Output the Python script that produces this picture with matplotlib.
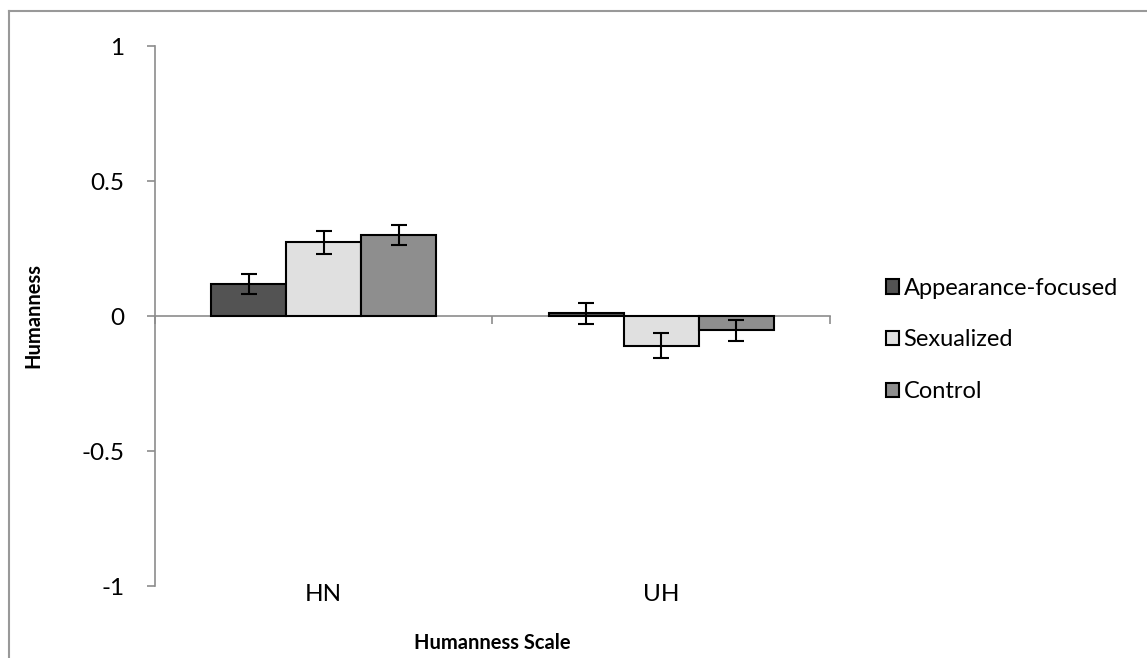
import numpy as np
import matplotlib.pyplot as plt
from matplotlib.lines import Line2D

plt.rcParams['font.family'] = ['Lato', 'DejaVu Sans']

# Mean humanness ratings per scale and condition
scales = ['HN', 'UH']
conditions = ['Appearance-focused', 'Sexualized', 'Control']
means_appearance = [0.117, 0.010]
means_sexualized = [0.273, -0.110]
means_control = [0.301, -0.053]
err_appearance = [0.037, 0.040]
err_sexualized = [0.043, 0.046]
err_control = [0.038, 0.039]

colors = ['#535353', '#e0e0e0', '#8e8e8e']
axis_gray = '#8c8c8c'

fig = plt.figure(figsize=(11.47, 6.58), dpi=100)
ax = fig.add_axes([0.1351, 0.1094, 0.5885, 0.8206])

x = np.arange(len(scales)) + 0.5
width = 0.222
series = [(means_appearance, err_appearance),
          (means_sexualized, err_sexualized),
          (means_control, err_control)]
handles = []
for i, (vals, errs) in enumerate(series):
    pos = x + (i - 1) * width
    b = ax.bar(pos, vals, width, color=colors[i], edgecolor='black',
               linewidth=1.5, label=conditions[i], zorder=2)
    ax.errorbar(pos, vals, yerr=errs, fmt='none', ecolor='black',
                elinewidth=1.5, capsize=6, capthick=1.5, zorder=3)
    handles.append(b)

ax.set_xlim(0, 2)
ax.set_ylim(-1, 1)
ax.set_yticks([-1, -0.5, 0, 0.5, 1])
ax.set_yticklabels(['-1', '-0.5', '0', '0.5', '1'])
ax.set_xticks([0, 1, 2])
ax.set_xticklabels([])

for s in ['top', 'right']:
    ax.spines[s].set_visible(False)
ax.spines['bottom'].set_position(('data', 0))
ax.spines['bottom'].set_zorder(1)
for s in ['left', 'bottom']:
    ax.spines[s].set_color(axis_gray)
    ax.spines[s].set_linewidth(1.2)
ax.tick_params(axis='both', direction='out', length=6, width=1.2,
               color=axis_gray, labelsize=17.5, pad=16)

# category names sit below the plot area, not at the zero line
for xi, name in zip(x, scales):
    ax.text(xi, -1.03, name, ha='center', va='center', fontsize=17.5,
            transform=ax.transData)

fig.text(33 / 1147, 1 - 316 / 658, 'Humanness', rotation=90, ha='center',
         va='center', fontsize=14.5, fontweight='bold')
fig.text(492 / 1147, 1 - 643 / 658, 'Humanness Scale', ha='center',
         va='center', fontsize=14.5, fontweight='bold')

ax.legend(handles=handles, loc='center left',
          bbox_to_anchor=(874 / 1147, 1 - 340 / 658),
          bbox_transform=fig.transFigure, frameon=False, fontsize=17,
          handlelength=0.55, handleheight=0.55, handletextpad=0.2,
          labelspacing=1.3, borderpad=0)

# outer chart frame
fig.add_artist(Line2D([9 / 1147, 9 / 1147], [0, 1 - 11 / 658],
                      transform=fig.transFigure, color='#999999', lw=1.5))
fig.add_artist(Line2D([9 / 1147, 1], [1 - 11 / 658, 1 - 11 / 658],
                      transform=fig.transFigure, color='#999999', lw=1.5))

fig.savefig('out.png', dpi=100)
